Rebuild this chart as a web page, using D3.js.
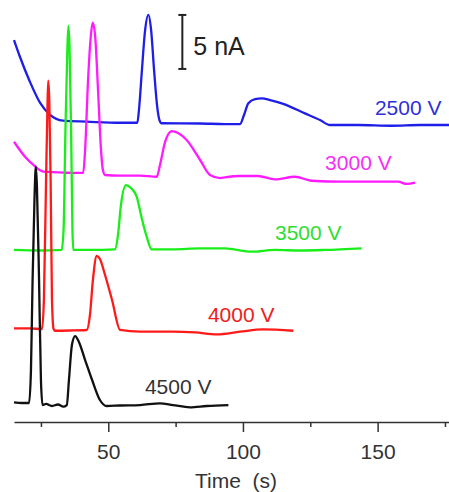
<!DOCTYPE html>
<html>
<head>
<meta charset="utf-8">
<script src="https://cdn.jsdelivr.net/npm/d3@7"></script>
<style>
  body { margin: 0; background: #fff; }
  svg { display: block; font-family: Arial, "Liberation Sans", sans-serif; }
</style>
</head>
<body>
<svg id="chart"></svg>
<script>
// electropherograms, time (s) vs current (nA, stacked offsets)
const voltages = ['2500 V', '3000 V', '3500 V', '4000 V', '4500 V']

const trace2500 = [
  [15.0, 35.37], [17.2, 33.82], [20.9, 31.51], [24.7, 29.54], [28.4, 28.43], [33.2, 27.90],
  [42.0, 27.81], [54.4, 27.71], [60.8, 27.71], [61.4, 28.9], [62.5, 32.6], [63.6, 36.1],
  [64.9, 37.69], [65.9, 36.3], [67.0, 32.6], [68.1, 29.35], [69.0, 27.96], [69.8, 27.66],
  [84.1, 27.64], [93.3, 27.59], [98.9, 27.59], [100.4, 28.43], [102.0, 29.51], [104.5, 29.9],
  [107.0, 29.97], [110.1, 29.8], [114.4, 29.51], [123.0, 28.58], [128.6, 27.96], [132.3, 27.5],
  [142.7, 27.5], [155.2, 27.43], [165.7, 27.5], [176.5, 27.5]
]
const trace3000 = [
  [15.0, 25.95], [19.1, 24.56], [22.2, 23.80], [25.9, 23.18], [34.6, 23.08], [40.7, 23.06],
  [41.4, 25.19], [42.5, 31.67], [43.4, 35.37], [44.2, 36.97], [45.1, 35.83], [46.2, 30.74],
  [47.3, 25.19], [48.0, 23.33], [48.8, 22.87], [54.4, 22.82], [61.8, 22.82], [68.0, 22.71],
  [69.2, 23.8], [71.1, 25.93], [73.6, 26.94], [75.9, 26.76], [79.1, 26.11], [84.1, 24.26],
  [87.8, 22.87], [91.5, 22.59], [93.3, 22.66], [98.9, 22.78], [105.6, 22.78], [111.9, 22.47],
  [119.3, 22.71], [125.5, 22.34], [136.7, 22.25], [149.0, 22.25], [157.6, 22.25], [160.8, 22.04],
  [163.9, 22.16]
]
const trace3500 = [
  [15.0, 15.93], [24.7, 15.88], [32.7, 15.93], [33.4, 17.78], [34.1, 27.04], [34.8, 34.44],
  [35.2, 36.67], [35.6, 34.91], [36.2, 27.04], [36.7, 17.78], [37.0, 15.93], [43.2, 15.93],
  [52.5, 15.99], [53.6, 17.31], [54.7, 20.09], [56.6, 21.94], [58.4, 21.67], [60.6, 20.83],
  [62.4, 18.89], [64.3, 17.13], [66.1, 15.99], [74.1, 15.99], [84.1, 16.08], [93.3, 16.08],
  [103.3, 15.77], [111.9, 15.93], [121.2, 15.88], [130.5, 15.93], [144.1, 16.08]
]
const trace4000 = [
  [15.0, 8.66], [20.9, 8.66], [25.4, 8.61], [26.1, 11.30], [26.9, 22.41], [27.4, 28.89],
  [27.7, 31.6], [28.1, 29.81], [28.6, 22.41], [29.1, 11.30], [29.7, 8.61], [30.2, 8.45],
  [35.8, 8.47], [42.0, 8.52], [43.2, 9.91], [44.3, 13.15], [45.7, 15.37], [46.9, 15.09],
  [48.8, 13.61], [51.4, 11.3], [54.4, 8.52], [61.8, 8.36], [74.0, 8.36], [82.2, 8.29],
  [90.3, 8.12], [98.9, 8.36], [107.4, 8.58], [118.7, 8.45]
]
const trace4500 = [
  [15.0, 1.81], [18.0, 1.76], [20.6, 1.76], [21.3, 4.81], [21.9, 13.15], [22.6, 20.56],
  [23.1, 23.64], [23.5, 21.94], [24.3, 13.15], [25.0, 3.89], [25.6, 1.57], [26.9, 1.67],
  [29.1, 1.48], [31.3, 1.62], [33.3, 1.42], [34.6, 1.57], [35.4, 3.89], [36.5, 7.13],
  [37.7, 7.96], [39.1, 7.41], [41.4, 5.74], [44.0, 3.89], [46.9, 2.04], [49.4, 1.48],
  [54.4, 1.53], [61.8, 1.57], [69.2, 1.73], [74.0, 1.57], [80.3, 1.36], [86.5, 1.48],
  [94.6, 1.57]
]
const traces = [trace2500, trace3000, trace3500, trace4000, trace4500]

// where each voltage label sits, in data units (time, nA)
const labelTime = [149.0, 130.5, 111.9, 87.0, 63.6]
const labelCurrent = [28.43, 23.33, 16.85, 9.26, 2.59]

const majorTicks = [50, 100, 150]
const minorTicks = [25, 75, 125, 175]

const lineColors = ['#1e1ee8', '#ff1aff', '#1aee1a', '#ff1a1a', '#111111']
const textColors = ['#3030d6', '#f530f5', '#30dd30', '#ee2020', '#333333']

const totalWidth = 449, totalHeight = 492

const x = d3.scaleLinear().domain([15, 176.5]).range([14, 449])
const y = d3.scaleLinear().domain([0, 40]).range([422, -10])

const svg = d3.select('#chart')
  .attr('width', totalWidth)
  .attr('height', totalHeight)

const line = d3.line()
  .x(d => x(d[0]))
  .y(d => y(d[1]))
  .curve(d3.curveMonotoneX)

svg.selectAll('path.trace')
  .data(traces)
  .enter()
  .append('path')
  .attr('class', 'trace')
  .attr('d', line)
  .attr('fill', 'none')
  .attr('stroke', (d, i) => lineColors[i])
  .attr('stroke-width', 2.3)
  .attr('stroke-linejoin', 'round')

svg.selectAll('text.volt')
  .data(voltages)
  .enter()
  .append('text')
  .attr('class', 'volt')
  .attr('x', (d, i) => x(labelTime[i]))
  .attr('y', (d, i) => y(labelCurrent[i]))
  .style('font-size', '21px')
  .attr('fill', (d, i) => textColors[i])
  .text(d => d)

// scale bar 5 nA
const barT = 77.5, barTop = 37.69
const bar = svg.append('g').attr('stroke', '#222').attr('stroke-width', 2)
bar.append('line')
  .attr('x1', x(barT)).attr('x2', x(barT))
  .attr('y1', y(barTop)).attr('y2', y(barTop - 5))
bar.append('line')
  .attr('x1', x(barT) - 4).attr('x2', x(barT) + 4)
  .attr('y1', y(barTop)).attr('y2', y(barTop))
bar.append('line')
  .attr('x1', x(barT) - 4).attr('x2', x(barT) + 4)
  .attr('y1', y(barTop - 5)).attr('y2', y(barTop - 5))
svg.append('text')
  .attr('x', x(barT) + 11)
  .attr('y', 55)
  .style('font-size', '25px')
  .attr('fill', '#222')
  .text('5 nA')

// x axis
const xAxis = d3.axisBottom(x)
  .tickValues(majorTicks)
  .tickSize(10)
  .tickSizeOuter(0)
  .tickPadding(12)
  .tickFormat(d3.format('d'))

const xMinor = d3.axisBottom(x)
  .tickValues(minorTicks)
  .tickSize(5)
  .tickSizeOuter(0)
  .tickFormat('')

const axisG = svg.append('g')
  .attr('transform', 'translate(0,' + y(0) + ')')
  .call(xAxis)
axisG.selectAll('text').style('font-size', '21px').attr('fill', '#333')
axisG.selectAll('line, path').attr('stroke', '#333').attr('stroke-width', 1.5)

const minorG = svg.append('g')
  .attr('transform', 'translate(0,' + y(0) + ')')
  .call(xMinor)
minorG.select('path').remove()
minorG.selectAll('line').attr('stroke', '#333').attr('stroke-width', 1.5)

svg.append('text')
  .attr('x', 236)
  .attr('y', 488)
  .attr('text-anchor', 'middle')
  .style('font-size', '21px')
  .style('white-space', 'pre')
  .attr('fill', '#333')
  .text('Time  (s)')
</script>
</body>
</html>
